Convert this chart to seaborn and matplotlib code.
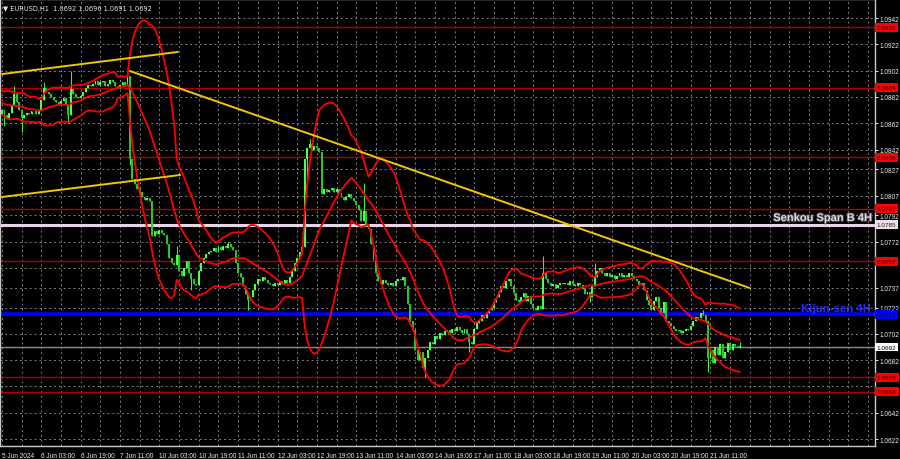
import numpy as np
import pandas as pd
import matplotlib
matplotlib.use("Agg")
import matplotlib.pyplot as plt
import matplotlib.patheffects as pe
import seaborn as sns

# ---------------- data (prices in 1/10000 above 1.0000) ----------------
title_text = "EURUSD,H1  1.0692 1.0696 1.0691 1.0692"

# H1 closes before the visible window (only used to warm up the bands)
warmup = [884, 879, 876, 881, 886, 882, 877, 874, 879, 883, 880, 875, 872, 877, 881, 878, 874, 871, 869]

jun05 = [872, 868, 866, 870, 876, 884, 878, 872, 866, 868, 870, 869, 871]
jun06 = [871, 869, 872, 880, 889, 886, 884, 882, 880, 878, 877, 879, 881, 876, 868, 888, 884, 882, 881, 883, 886, 889, 891, 890]
jun07 = [892, 894, 891, 893, 894, 890, 892, 895, 893, 890, 889, 891, 893, 890, 898, 835, 820, 816, 812, 810, 806, 804, 805, 803]
jun10 = [776, 780, 778, 781, 779, 777, 770, 760, 756, 754, 762, 750, 746, 752, 757, 748, 744, 740, 739, 750, 756, 760, 763, 764]
jun11 = [765, 767, 764, 768, 766, 769, 767, 770, 768, 766, 756, 748, 745, 738, 732, 728, 730, 735, 740, 744, 742, 745, 743, 741]
jun12 = [740, 738, 741, 739, 742, 740, 743, 741, 745, 750, 756, 760, 764, 768, 835, 843, 846, 842, 845, 843, 840, 808, 812, 810]
jun13 = [811, 813, 810, 812, 809, 806, 804, 806, 808, 805, 803, 800, 796, 788, 795, 785, 782, 770, 758, 748, 742, 740, 743, 741]
jun14 = [739, 741, 738, 742, 744, 743, 745, 738, 725, 712, 705, 690, 682, 688, 676, 684, 690, 696, 694, 700, 698, 703, 701, 704]
jun17 = [705, 703, 706, 704, 707, 705, 703, 706, 702, 696, 694, 706, 710, 712, 716, 714, 718, 720, 722, 726, 730, 734, 738, 737]
jun18 = [742, 744, 738, 733, 728, 726, 730, 733, 727, 731, 725, 722, 720, 723, 721, 748, 744, 741, 738, 740, 737, 739, 741, 740]
jun19 = [741, 739, 742, 740, 738, 741, 739, 736, 732, 734, 730, 738, 745, 750, 752, 748, 746, 748, 745, 747, 744, 746, 748, 745]
jun20 = [747, 745, 748, 746, 744, 742, 739, 741, 735, 728, 724, 720, 727, 730, 722, 718, 726, 712, 710, 708, 706, 704, 705, 703]
jun21 = [704, 706, 705, 708, 712, 715, 714, 718, 716, 712, 684, 690, 680, 692, 686, 694, 684, 688, 695, 690, 694, 693, 692, 692]

# notable wick extremes (bar index -> price)
wick_highs = {5: 890, 17: 893, 28: 902, 51: 901, 71: 769, 92: 772, 125: 850, 147: 817,
              220: 761, 241: 756, 285: 720, 300: 696}
wick_lows = {1: 860, 8: 855, 27: 862, 52: 830, 77: 735, 100: 720, 124: 820, 172: 669,
             190: 688, 239: 726, 287: 673, 300: 691}

# hand-drawn trend lines: (bar0, price0, bar1, price1)
trend_lines = [(0, 1.08994, 71.5, 1.09162),
               (0, 1.08060, 72.4, 1.08227),
               (52, 1.09017, 304, 1.07368)]

red_levels = [1.0935, 1.0889, 1.0836, 1.0797, 1.0757, 1.0669, 1.0658]
senkou_level = 1.0785
kijun_level = 1.0717
last_price = 1.0692

price_ticks = [1.0942, 1.0922, 1.0902, 1.0882, 1.0862, 1.0842, 1.0827, 1.0807, 1.0792,
               1.0772, 1.0737, 1.0722, 1.0702, 1.0682, 1.0642, 1.0622]
hidden_grid_prices = [1.0752, 1.0662]
time_labels = ["5 Jun 2024", "6 Jun 03:00", "6 Jun 19:00", "7 Jun 11:00", "10 Jun 03:00",
               "10 Jun 19:00", "11 Jun 11:00", "12 Jun 03:00", "12 Jun 19:00", "13 Jun 11:00",
               "14 Jun 03:00", "14 Jun 19:00", "17 Jun 11:00", "18 Jun 03:00", "18 Jun 19:00",
               "19 Jun 11:00", "20 Jun 03:00", "20 Jun 19:00", "21 Jun 11:00"]
label_step = 16
grid_step = 8

# ---------------- build ----------------
days = [jun05, jun06, jun07, jun10, jun11, jun12, jun13, jun14, jun17, jun18, jun19, jun20, jun21]
closes = np.array([c for d in days for c in d], dtype=float) / 10000 + 1.0
prev = np.concatenate([[warmup[-1] / 10000 + 1.0], closes[:-1]])
opens = prev.copy()
opens[-1] = 1.0692
n = len(closes)
idx = np.arange(n)
highs = np.maximum(opens, closes)
lows = np.minimum(opens, closes)
for k, v in wick_highs.items():
    highs[k] = max(highs[k], v / 10000 + 1.0)
for k, v in wick_lows.items():
    lows[k] = min(lows[k], v / 10000 + 1.0)

allc = pd.Series(np.concatenate([np.array(warmup) / 10000 + 1.0, closes]))
mid = allc.rolling(20).mean()
sd = allc.rolling(20).std(ddof=0)
w = len(warmup)
bands = pd.DataFrame({"bar": idx,
                      "upper": (mid + 2 * sd).values[w:],
                      "middle": mid.values[w:],
                      "lower": (mid - 2 * sd).values[w:]})

# ---------------- draw ----------------
sns.set_style("dark")
plt.rcParams["font.family"] = ["Liberation Sans", "DejaVu Sans"]

fig = plt.figure(figsize=(9, 4.6), dpi=100, facecolor="black")
ax = fig.add_axes([0.0, 13 / 460, 875 / 900, 447 / 460], facecolor="black")

px_per_bar = 2.46
x0 = -2 / px_per_bar
ax.set_xlim(x0, x0 + 875 / px_per_bar)
ppu = 13160.0
ax.set_ylim(1.0942 - (447 - 19) / ppu, 1.0942 + 19 / ppu)

# grid
for gx in range(0, int(x0 + 875 / px_per_bar) + 1, grid_step):
    ax.axvline(gx, color="#808080", lw=0.7, ls=(0, (2, 3)), zorder=0)
for gy in price_ticks + hidden_grid_prices:
    ax.axhline(gy, color="#808080", lw=0.7, ls=(0, (2, 3)), zorder=0)

# levels
for lv in red_levels:
    ax.axhline(lv, color="#b00000", lw=1.0, zorder=1)
ax.axhline(senkou_level, color="#e6d6e6", lw=2.2, zorder=1)
ax.axhline(kijun_level, color="#0000ff", lw=2.6, zorder=1)
ax.axhline(last_price, color="#8c8c8c", lw=1.0, zorder=1)

# candles
up = closes >= opens
body_c = np.where(up, "#4cff4c", "#26c826")
ax.vlines(idx, lows, highs, colors="#3af03a", lw=0.8, zorder=2)
heights = np.maximum(np.abs(closes - opens), 0.00004)
ax.bar(idx, heights, bottom=np.minimum(opens, closes), width=0.78, color=body_c,
       linewidth=0, zorder=3)

# bollinger bands
for col in ["upper", "middle", "lower"]:
    sns.lineplot(data=bands, x="bar", y=col, ax=ax, color="#ff0000", lw=1.3, zorder=4,
                 legend=False)

# trend lines
for (a0, p0, a1, p1) in trend_lines:
    sns.lineplot(x=[a0, a1], y=[p0, p1], ax=ax, color="#f0c800", lw=1.4, zorder=5)

ax.set_xlabel("")
ax.set_ylabel("")

# level names
ax.text(0.997, senkou_level + 0.00012, "Senkou Span B 4H", transform=ax.get_yaxis_transform(),
        ha="right", va="bottom", fontsize=8, fontweight="bold", color="#e6d6e6",
        path_effects=[pe.withStroke(linewidth=1.3, foreground="#404040")], zorder=6)
ax.text(0.995, kijun_level + 0.00012, "Kijun-sen 4H", transform=ax.get_yaxis_transform(),
        ha="right", va="bottom", fontsize=8.2, fontweight="bold", color="#2a2aff", zorder=6)

# axes styling
for s in ax.spines.values():
    s.set_color("#c8c8c8")
    s.set_linewidth(1.0)
ax.yaxis.tick_right()
ax.set_yticks(price_ticks)
ax.set_yticklabels([f"{t:.4f}" for t in price_ticks])
ax.set_xticks(np.arange(len(time_labels)) * label_step)
ax.set_xticklabels(time_labels, ha="left")
ax.tick_params(axis="both", colors="#ececec", labelsize=4.7, length=3, width=0.7,
               direction="out", pad=1.5)
ax.tick_params(axis="y", pad=1.5, length=2)
ax.grid(False)

# price boxes on the right scale
def price_box(level, fc, tc):
    ax.text(1.0022, level, f"{level:.4f}", transform=ax.get_yaxis_transform(), ha="left",
            va="center", fontsize=4.6, color=tc, zorder=10, clip_on=False,
            bbox=dict(boxstyle="square,pad=0.3", fc=fc, ec="none"))

for lv in red_levels:
    price_box(lv, "#ff0000", "#1a0000")
price_box(senkou_level, "#ece0ec", "#202020")
price_box(kijun_level, "#0000ff", "#000040")
price_box(last_price, "#ffffff", "#000000")

fig.text(3 / 900, 1 - 9 / 460, "\u25bc " + title_text, color="#e8e8e8", fontsize=4.8,
         va="center", ha="left", family=["DejaVu Sans"])

fig.savefig("out.png", dpi=100, facecolor="black")
